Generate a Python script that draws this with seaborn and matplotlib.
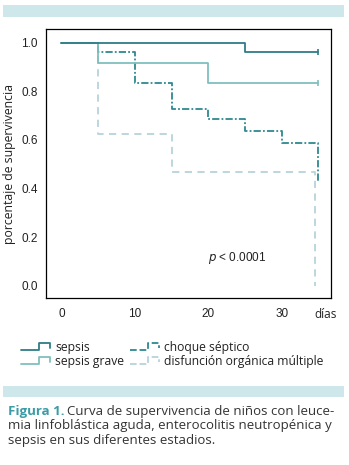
import matplotlib
matplotlib.use("Agg")
import matplotlib.pyplot as plt
import seaborn as sns
from matplotlib.lines import Line2D
from matplotlib.legend_handler import HandlerLine2D
from matplotlib.patches import Rectangle

# -------------------------
# Data
# -------------------------
sepsis_t = [0, 25, 35]
sepsis_s = [1.0, 0.96, 0.96]

grave_t = [0, 5, 20, 35]
grave_s = [1.0, 0.917, 0.833, 0.833]

choque_t = [0, 5, 10, 15, 20, 25, 30, 35]
choque_s = [1.0, 0.96, 0.833, 0.726, 0.686, 0.637, 0.588, 0.43]

disf_t = [0, 5, 15, 34.5]
disf_s = [1.0, 0.625, 0.467, 0.0]

labels = ["sepsis", "sepsis grave", "choque séptico", "disfunción orgánica múltiple"]
xticks = [0, 10, 20, 30]
yticks = [0.0, 0.2, 0.4, 0.6, 0.8, 1.0]

# -------------------------
# Style
# -------------------------
sns.set_style("white")
plt.rcParams["font.family"] = ["Liberation Sans", "DejaVu Sans"]

c_sepsis = "#2f7d86"
c_grave = "#7fbfbe"
c_choque = "#2f8890"
c_disf = "#b7d3dc"
band = "#cde7ea"

styles = [
    dict(color=c_sepsis, ls="-", z=5),
    dict(color=c_grave, ls="-", z=4),
    dict(color=c_choque, ls=(0, (4, 1.2, 1, 1.2)), z=3),
    dict(color=c_disf, ls=(0, (4, 3)), z=2),
]

fig = plt.figure(figsize=(3.49, 4.65), dpi=100)
ax = fig.add_axes([0.132, 0.359, 0.816, 0.578])

series = [(sepsis_t, sepsis_s), (grave_t, grave_s), (choque_t, choque_s), (disf_t, disf_s)]
for (t, s), st in zip(series, styles):
    sns.lineplot(x=t, y=s, ax=ax, drawstyle="steps-post", color=st["color"],
                 linestyle=st["ls"], linewidth=1.3, estimator=None, sort=False,
                 zorder=st["z"])

# censored ends
sns.scatterplot(x=[sepsis_t[-1]], y=[sepsis_s[-1]], ax=ax, marker="|", s=25,
                color=c_sepsis, linewidth=1.2, zorder=6)
sns.scatterplot(x=[grave_t[-1]], y=[grave_s[-1]], ax=ax, marker="|", s=25,
                color=c_grave, linewidth=1.2, zorder=6)

ax.set_xlim(-2.1, 36.7)
ax.set_ylim(-0.05, 1.055)
ax.set_xticks(xticks + [36.0])
ax.set_xticklabels([str(v) for v in xticks] + ["días"])
ax.set_yticks(yticks)
ax.set_yticklabels([f"{v:.1f}" for v in yticks])
ax.tick_params(axis="both", direction="out", length=3, width=0.8, labelsize=8.5,
               colors="#222222", pad=3)
ax.tick_params(axis="x", pad=4)
ax.get_xticklines()[-2].set_visible(False)
ax.get_xticklabels()[-1].set_fontfamily(["Open Sans", "DejaVu Sans"])
for sp in ax.spines.values():
    sp.set_color("black")
    sp.set_linewidth(0.9)
ax.set_ylabel("porcentaje de supervivencia", fontsize=8.8, color="#222222",
              family=["Open Sans", "DejaVu Sans"], labelpad=4)
ax.text(20, 0.114, r"$p$ < 0.0001", fontsize=8.5, va="center", color="#222222")


# step-shaped legend handles
class StepHandler(HandlerLine2D):
    def create_artists(self, legend, orig_handle, xdescent, ydescent, width, height, fontsize, trans):
        x0 = -xdescent
        lo = -ydescent + 0.1 * height
        hi = -ydescent + 0.95 * height
        xs = [x0, x0 + 0.6 * width, x0 + 0.6 * width, x0 + width, x0 + width]
        ys = [lo, lo, hi, hi, lo + 0.3 * height]
        line = Line2D(xs, ys, color=orig_handle.get_color(), linestyle=orig_handle.get_linestyle(),
                      linewidth=orig_handle.get_linewidth())
        line.set_transform(trans)
        return [line]


handles = [Line2D([], [], color=st["color"], linestyle=st["ls"], linewidth=1.3) for st in styles]
leg = fig.legend(handles, labels, ncol=2, loc="upper left", bbox_to_anchor=(0.03, 0.29),
                 frameon=False, handlelength=2.4, handletextpad=0.4,
                 columnspacing=0.5, labelspacing=0.1,
                 handler_map={Line2D: StepHandler()},
                 prop={"family": ["Open Sans", "DejaVu Sans"], "size": 8.7})
for t in leg.get_texts():
    t.set_color("#222222")

# decorative bands
fig.patches.append(Rectangle((0.009, 0.964), 0.977, 0.025, transform=fig.transFigure,
                             facecolor=band, edgecolor="none"))
fig.patches.append(Rectangle((0.009, 0.146), 0.977, 0.023, transform=fig.transFigure,
                             facecolor=band, edgecolor="none"))

# caption
cap_font = ["Open Sans", "DejaVu Sans"]
cap_size = 9.5
head = fig.text(0.023, 0.116, "Figura 1.", fontsize=cap_size, color="#3a9ca6",
                fontweight="bold", family=cap_font, va="center")
fig.canvas.draw()
bb = head.get_window_extent().transformed(fig.transFigure.inverted())
fig.text(bb.x1 + 0.008, 0.116, "Curva de supervivencia de niños con leuce-", fontsize=cap_size,
         color="#333333", family=cap_font, va="center")
fig.text(0.023, 0.084, "mia linfoblástica aguda, enterocolitis neutropénica y", fontsize=cap_size,
         color="#333333", family=cap_font, va="center")
fig.text(0.023, 0.053, "sepsis en sus diferentes estadios.", fontsize=cap_size,
         color="#333333", family=cap_font, va="center")

fig.savefig("out.png", dpi=100)
